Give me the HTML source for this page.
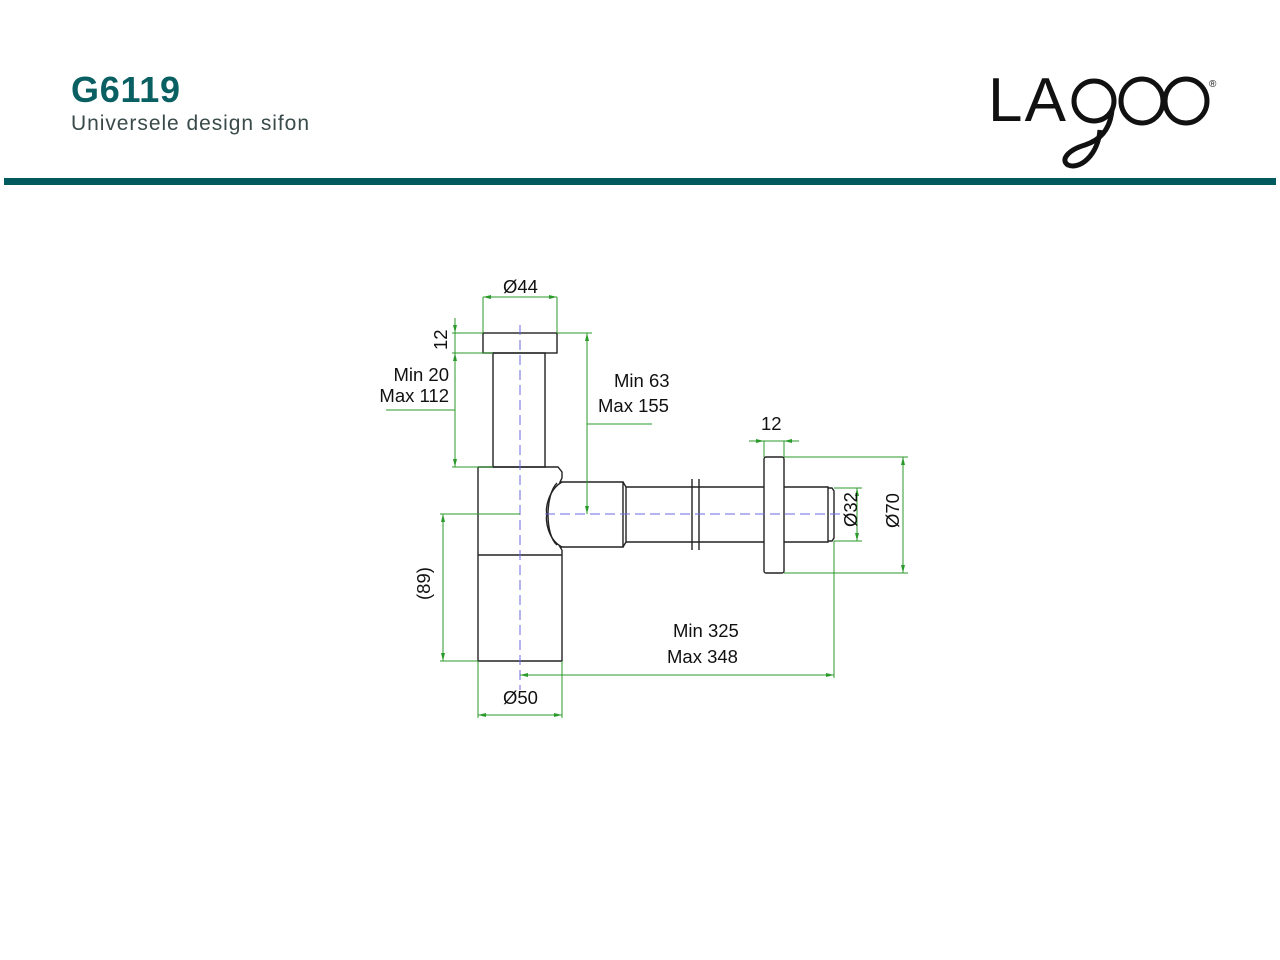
<!DOCTYPE html>
<html><head><meta charset="utf-8"><style>
html,body{margin:0;padding:0;background:#fff;width:1280px;height:960px;overflow:hidden;font-family:"Liberation Sans",sans-serif}
</style></head><body>
<svg width="1280" height="960" xmlns="http://www.w3.org/2000/svg" style="position:absolute;left:0;top:0">
<text x="71" y="102" font-size="36" font-weight="bold" fill="#0a5f62" font-family="Liberation Sans,sans-serif" textLength="109">G6119</text>
<text x="71" y="130" font-size="21" fill="#3a4a4a" font-family="Liberation Sans,sans-serif" textLength="238">Universele design sifon</text>
<text x="988" y="121" font-size="62" fill="#111" font-family="Liberation Sans,sans-serif" font-weight="normal" textLength="78">LA</text>
<g fill="none" stroke="#111" stroke-width="5">
<circle cx="1094" cy="101" r="20"/>
<path d="M1112 110 C1110 130 1100 140 1085 145 C1068 150 1060 160 1068 165 C1080 170 1098 155 1100 130"/>
<ellipse cx="1142" cy="101" rx="21" ry="22"/>
<ellipse cx="1186" cy="101" rx="21" ry="22"/>
</g>
<text x="1209" y="87" font-size="10" fill="#111">®</text>
<rect x="4" y="178" width="1272" height="7" fill="#005a5e"/>

<g fill="none" stroke="#222" stroke-width="1.4">
<rect x="483" y="333" width="74" height="20"/>
<rect x="493" y="353" width="52" height="114"/>
<path d="M478 467 H558 L562 472 V478 M478 467 V661 H562 V550"/>
<path d="M562 478 L560 482 H623 V547 H560 L562 550"/>
<path d="M562 482 C548 490 545 510 547 514 C545 520 548 540 562 547"/>
<path d="M557 483 C545 495 545 535 557 545"/>
<path d="M623 482 L626 487 V542 L623 547"/>
<path d="M626 487 H764 M626 542 H764"/>
<path d="M692 479 V550 M699 479 V550"/>
<rect x="764" y="457" width="20" height="116" rx="2"/>
<path d="M784 487 H828 V542 H784 M828 488 H832 L834 491 V538 L832 541 H828"/>
<path d="M478 555 H562"/>
</g>
<g stroke="#6a6ae0" stroke-width="1" stroke-dasharray="10,5" fill="none">
<path d="M520 325 V690"/>
<path d="M545 514 H845"/>
</g>
<g stroke="#2a9a2a" stroke-width="1" fill="none">
<path d="M483 297 H557 M483 297 V333 M557 297 V333"/>
<path d="M452 333 H483 M452 353 H493 M455 318 V467 M452 467 H493"/>
<path d="M386 410 H455"/>
<path d="M557 333 H592 M587 333 V514 M587 424 H652"/>
<path d="M749 441 H799 M764 441 V457 M784 441 V457"/>
<path d="M784 457 H908 M784 573 H908 M903 457 V573"/>
<path d="M834 488 H862 M834 541 H862 M857 488 V541"/>
<path d="M440 514 H520 M440 661 H478 M443 514 V661"/>
<path d="M520 675 H834 M834 541 V678"/>
<path d="M478 661 V718 M562 661 V718 M478 715 H562"/>
</g>
<g fill="#2a9a2a">
<path d="M483 297 l8 -2 v4z M557 297 l-8 -2 v4z"/>
<path d="M455 333 l-2 -8 h4z M455 353 l-2 8 h4z M455 467 l-2 -8 h4z"/>
<path d="M587 333 l-2 8 h4z M587 514 l-2 -8 h4z"/>
<path d="M764 441 l-8 -2 v4z M784 441 l8 -2 v4z"/>
<path d="M903 457 l-2 8 h4z M903 573 l-2 -8 h4z M857 488 l-2 8 h4z M857 541 l-2 -8 h4z"/>
<path d="M443 514 l-2 8 h4z M443 661 l-2 -8 h4z"/>
<path d="M520 675 l8 -2 v4z M834 675 l-8 -2 v4z"/>
<path d="M478 715 l8 -2 v4z M562 715 l-8 -2 v4z"/>
</g>
<g font-size="18.5" fill="#111" font-family="Liberation Sans,sans-serif">
<text x="503" y="293">Ø44</text>
<text x="447" y="350" transform="rotate(-90 447 350)" text-anchor="start">12</text>
<text x="449" y="381" text-anchor="end">Min 20</text>
<text x="449" y="402" text-anchor="end">Max 112</text>
<text x="614" y="387">Min 63</text>
<text x="598" y="412">Max 155</text>
<text x="761" y="430">12</text>
<text x="857" y="527" transform="rotate(-90 857 527)">Ø32</text>
<text x="899" y="528" transform="rotate(-90 899 528)">Ø70</text>
<text x="430" y="600" transform="rotate(-90 430 600)">(89)</text>
<text x="673" y="637">Min 325</text>
<text x="667" y="663">Max 348</text>
<text x="503" y="704">Ø50</text>
</g>
</svg>
</body></html>
